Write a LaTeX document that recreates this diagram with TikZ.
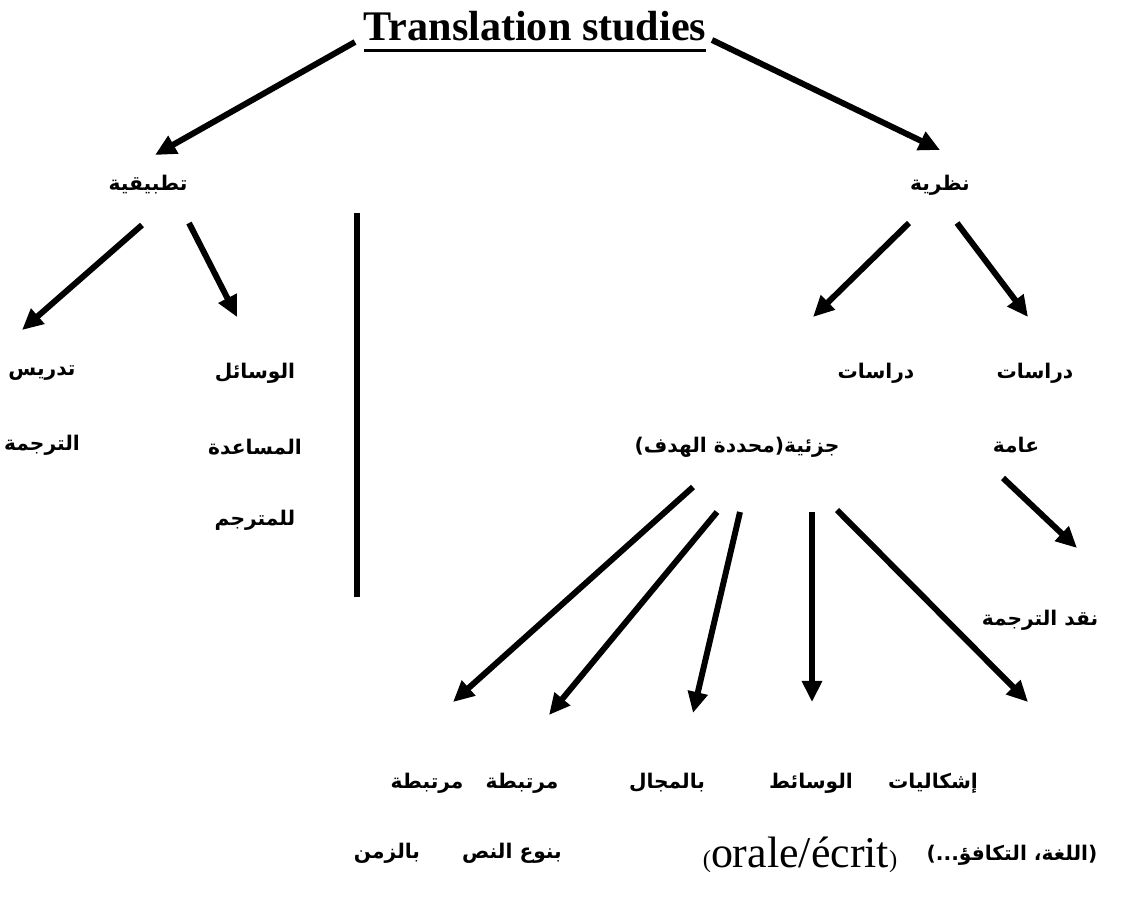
\documentclass[tikz,border=0pt]{standalone}
\usepackage{fontspec}
\setmainfont{Liberation Serif}
\newfontfamily\arabicfont[Script=Arabic]{DejaVu Sans}
\TeXXeTstate=1
\usetikzlibrary{arrows.meta}
\newcommand{\thickul}[1]{\setbox0=\hbox{#1}\rlap{\raisebox{-6.9pt}{\rule{\wd0}{1.7pt}}}\box0}
\newcommand{\rl}[1]{\beginR #1\endR}
\newcommand{\smallpar}[1]{{\fontsize{14}{16}\selectfont #1}}
\tikzset{
  lbl/.style={font=\arabicfont\bfseries\fontsize{11.5}{14}\selectfont, inner sep=0pt},
  ttl/.style={font=\bfseries\fontsize{24}{28}\selectfont, inner sep=0pt},
  arr/.style={line width=3.4pt, -{Triangle[length=12pt,width=11pt]}},
}
\begin{document}
\begin{tikzpicture}[x=0.02cm,y=-0.02cm]
    \useasboundingbox (0,0) rectangle (1121,900);
    \node[ttl,anchor=base] (title) at (535,40) {\thickul{Translation studies}};
    \node[lbl] (tatbiq) at (148,185) {\rl{تطبيقية}};
    \node[lbl] (nazar) at (940,185) {\rl{نظرية}};
    % practical side
    \node[lbl] (tadris) at (42,373) {\rl{تدريس}}; \node[lbl] (tarjama) at (42,445) {\rl{الترجمة}};
    \node[lbl] (wasail) at (255,373) {\rl{الوسائل}}; \node[lbl] (musaada) at (255,447) {\rl{المساعدة}};
    \node[lbl] (mutarjim) at (255,520) {\rl{للمترجم}};
    \coordinate (barTop) at (357,213); \coordinate (barBot) at (357,597);
    % theory side
    \node[lbl] (dirasatA) at (876,373) {\rl{دراسات}}; \node[lbl] (juziya) at (737,447) {\rl{جزئية(محددة الهدف)}};
    \node[lbl] (dirasatB) at (1035,373) {\rl{دراسات}}; \node[lbl] (amma) at (1016,445) {\rl{عامة}};
    \node[lbl] (naqd) at (1040,620) {\rl{نقد الترجمة}};
    \node[lbl] (murtA) at (427,783) {\rl{مرتبطة}}; \node[lbl] (zaman) at (387,853) {\rl{بالزمن}};
    \node[lbl] (murtB) at (522,783) {\rl{مرتبطة}}; \node[lbl] (naw) at (512,853) {\rl{بنوع النص}};
    \node[lbl] (majal) at (667,783) {\rl{بالمجال}};
    \node[lbl] (wasait) at (811,783) {\rl{الوسائط}};
    \node[inner sep=0pt,font=\fontsize{25}{29}\selectfont] (orale) at (800,855) {\smallpar{(}orale/écrit\smallpar{)}};
    \node[lbl] (ishk) at (933,783) {\rl{إشكاليات}};
    \node[lbl] (lugha) at (1012,855) {\rl{(اللغة، التكافؤ...)}};
    \draw[arr] ([shift={(-180,2)}]title.base) -- ([shift={(7,-30)}]tatbiq.center);
    \draw[arr] ([shift={(177,0)}]title.base) -- ([shift={(0,-35)}]nazar.center);
    \draw[arr] ([shift={(-6,40)}]tatbiq.center) -- ([shift={(-20,-43)}]tadris.center);
    \draw[arr] ([shift={(41,38)}]tatbiq.center) -- ([shift={(-18,-56)}]wasail.center);
    \draw[line width=3.4pt] (barTop) -- (barBot);
    \draw[arr] ([shift={(-31,38)}]nazar.center) -- ([shift={(-63,-56)}]dirasatA.center);
    \draw[arr] ([shift={(17,38)}]nazar.center) -- ([shift={(-7,-56)}]dirasatB.center);
    \draw[arr] ([shift={(-13,33)}]amma.center) -- ([shift={(37,-72)}]naqd.center);
    \draw[arr] ([shift={(-44,40)}]juziya.center) -- ([shift={(26,-81)}]murtA.center);
    \draw[arr] ([shift={(-20,65)}]juziya.center) -- ([shift={(27,-68)}]murtB.center);
    \draw[arr] ([shift={(3,65)}]juziya.center) -- ([shift={(26,-70)}]majal.center);
    \draw[arr] ([shift={(75,65)}]juziya.center) -- ([shift={(1,-81)}]wasait.center);
    \draw[arr] ([shift={(100,63)}]juziya.center) -- ([shift={(95,-81)}]ishk.center);
\end{tikzpicture}
\end{document}
